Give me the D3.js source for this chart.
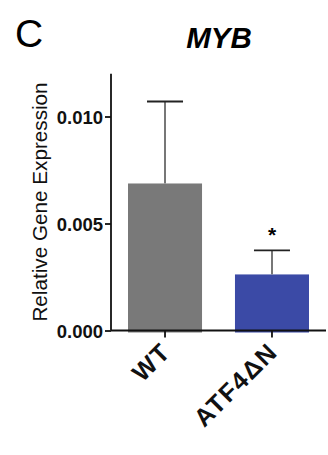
<!DOCTYPE html>
<html lang="en">
<head>
	<meta charset="UTF-8"/>
	<title>MYB relative expression</title>
	<script src="https://d3js.org/d3.v7.min.js"></script>
	<style>
		body { margin: 0; background: #fff; }
		text { font-family: "Liberation Sans", Arial, sans-serif; }
	</style>
</head>
<body>
	<script>
		var w = 328;
		var h = 455;

		var groups = ["WT", "ATF4\u0394N"];
		var means = [0.00687, 0.00262];
		var errors = [0.00383, 0.00112];
		var colors = ["#797979", "#3b4aa6"];
		var stars = ["", "*"];
		var yTicks = [0.000, 0.005, 0.010];

		var svg = d3.select("body")
					.append("svg")
					.attr("width", w)
					.attr("height", h);

		var xScale = d3.scaleBand()
					.domain(groups)
					.range([111, 326])
					.paddingInner(0.308)
					.paddingOuter(0.159);

		var yScale = d3.scaleLinear()
					.domain([0, 0.012])
					.range([330.5, 73.7]);

		// bars
		svg.selectAll("rect.bar")
			.data(groups)
			.enter()
			.append("rect")
			.attr("class", "bar")
			.attr("x", function(d){ return xScale(d); })
			.attr("y", function(d, i){ return yScale(means[i]); })
			.attr("width", xScale.bandwidth())
			.attr("height", function(d, i){ return yScale(0) - yScale(means[i]) + 2; })
			.attr("fill", function(d, i){ return colors[i]; });

		// error bars (upper only)
		svg.selectAll("line.err")
			.data(groups)
			.enter()
			.append("line")
			.attr("class", "err")
			.attr("x1", function(d){ return xScale(d) + xScale.bandwidth() / 2; })
			.attr("x2", function(d){ return xScale(d) + xScale.bandwidth() / 2; })
			.attr("y1", function(d, i){ return yScale(means[i]); })
			.attr("y2", function(d, i){ return yScale(means[i] + errors[i]); })
			.attr("stroke", "#777")
			.attr("stroke-width", 2);

		svg.selectAll("line.cap")
			.data(groups)
			.enter()
			.append("line")
			.attr("class", "cap")
			.attr("x1", function(d){ return xScale(d) + xScale.bandwidth() / 2 - 18; })
			.attr("x2", function(d){ return xScale(d) + xScale.bandwidth() / 2 + 18; })
			.attr("y1", function(d, i){ return yScale(means[i] + errors[i]); })
			.attr("y2", function(d, i){ return yScale(means[i] + errors[i]); })
			.attr("stroke", "#222")
			.attr("stroke-width", 1.8);

		svg.selectAll("text.star")
			.data(groups)
			.enter()
			.append("text")
			.attr("class", "star")
			.attr("text-anchor", "middle")
			.attr("x", function(d){ return xScale(d) + xScale.bandwidth() / 2; })
			.attr("y", function(d, i){ return yScale(means[i] + errors[i]) - 8; })
			.style("font-size", "21px")
			.style("font-weight", "bold")
			.text(function(d, i){ return stars[i]; });

		// axes
		var yAxis = d3.axisLeft(yScale)
					.tickValues(yTicks)
					.tickFormat(d3.format(".3f"))
					.tickSize(6)
					.tickPadding(2);

		var xAxis = d3.axisBottom(xScale)
					.tickSize(7)
					.tickFormat("");

		var gy = svg.append("g")
			.attr("transform", "translate(111,0)")
			.call(yAxis);
		gy.select(".domain").attr("d", "M0," + yScale(0.012) + "V" + yScale(0));

		var gx = svg.append("g")
			.attr("transform", "translate(0," + yScale(0) + ")")
			.call(xAxis);
		gx.select(".domain").attr("d", "M111,0H326");

		svg.selectAll(".domain, .tick line")
			.attr("stroke", "#111")
			.attr("stroke-width", 1.8);

		gy.selectAll(".tick text")
			.attr("fill", "#111")
			.style("font-size", "18.5px")
			.style("font-weight", "bold")
			.attr("dy", "0.36em");

		// rotated group labels
		svg.selectAll("text.grp")
			.data(groups)
			.enter()
			.append("text")
			.attr("class", "grp")
			.attr("text-anchor", "end")
			.attr("transform", function(d){
				return "translate(" + (xScale(d) + xScale.bandwidth() / 2 + 7) + "," + (yScale(0) + 23) + ") rotate(-45)";
			})
			.style("font-size", "25px")
			.style("font-weight", "bold")
			.style("letter-spacing", "1.5px")
			.attr("fill", "#111")
			.text(function(d){ return d; });

		// y label
		svg.append("text")
			.attr("text-anchor", "middle")
			.attr("transform", "rotate(-90)")
			.attr("x", -202)
			.attr("y", 47)
			.style("font-size", "20.7px")
			.attr("fill", "#111")
			.text("Relative Gene Expression");

		// title and panel letter
		svg.append("text")
			.attr("text-anchor", "middle")
			.attr("x", 219)
			.attr("y", 48)
			.style("font-size", "29.5px")
			.style("font-weight", "bold")
			.style("font-style", "italic")
			.text("MYB");

		svg.append("text")
			.attr("x", 15)
			.attr("y", 47)
			.style("font-size", "39px")
			.text("C");
	</script>
</body>
</html>
